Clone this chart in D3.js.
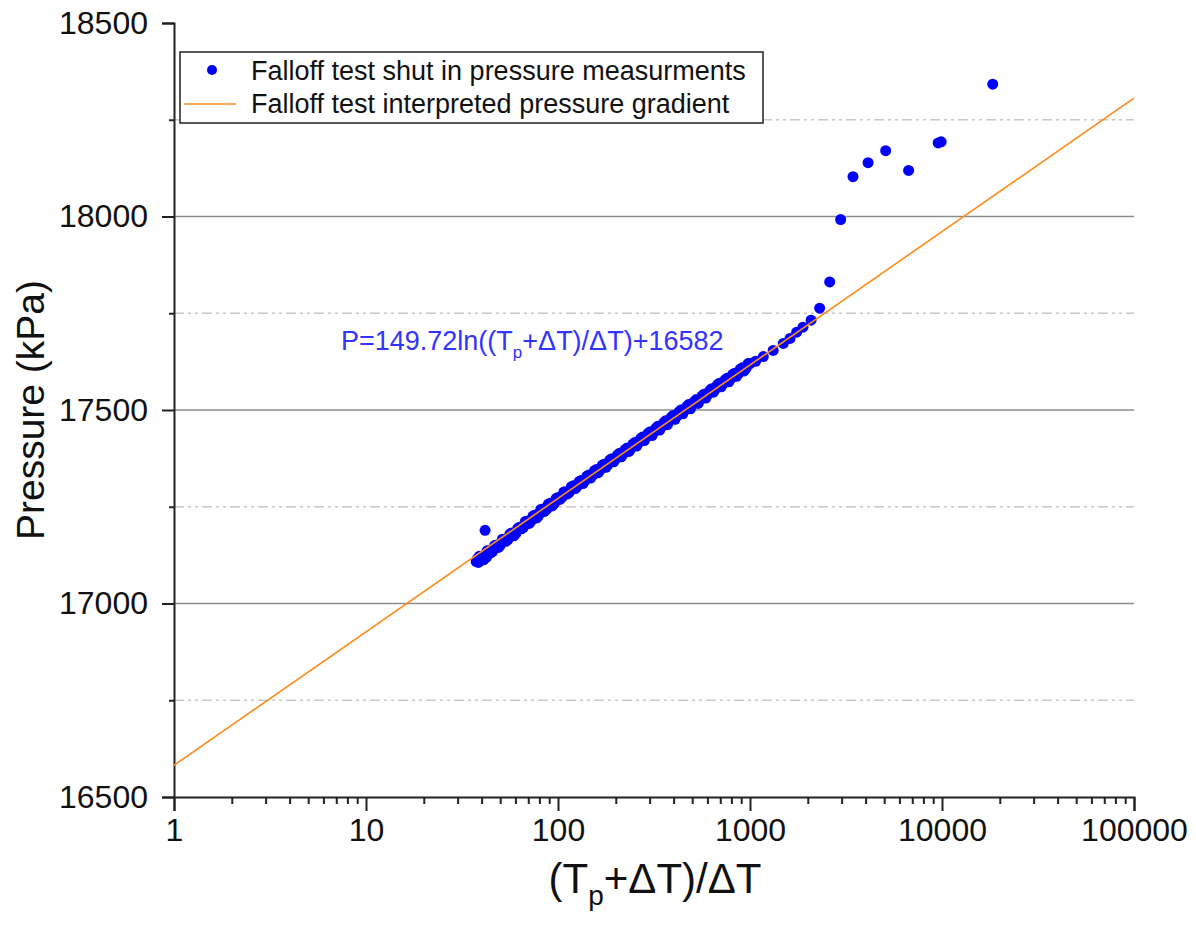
<!DOCTYPE html>
<html>
<head>
<meta charset="utf-8">
<script src="https://cdn.jsdelivr.net/npm/d3@7"></script>
<style>
  body { margin: 0; background: #fff; }
  text { font-family: "Liberation Sans", Arial, sans-serif; }
</style>
</head>
<body>
<div id="chart"></div>
<script>
// shut-in measurements: Horner ratio (Tp+dT)/dT and pressure (kPa)
var ratio = [37.5, 38.0, 38.5, 39.0, 39.8, 40.5, 41.0, 41.7, 42.5, 43.7, 45.7, 47.9, 50.1, 52.5, 55.0, 57.5,
  60.3, 63.1, 66.1, 69.2, 72.4, 75.9, 79.4, 83.2, 87.1, 91.2, 95.5, 100, 104.7, 109.6, 114.8, 120.2,
  125.9, 131.8, 138.0, 144.5, 151.4, 158.5, 166.0, 173.8, 182.0, 190.5, 199.5, 208.9, 218.8, 229.1,
  239.9, 251.2, 263.0, 275.4, 288.4, 302.0, 316.2, 331.1, 346.7, 363.1, 380.2, 398.1, 416.9, 436.5,
  457.1, 478.6, 501.2, 524.8, 549.5, 575.4, 602.6, 631.0, 660.7, 691.8, 724.4, 758.6, 794.3, 831.8,
  871.0, 912.0, 955.0, 1000, 1070, 1173, 1320, 1490, 1615, 1750, 1888, 2080, 2306, 2600, 2966, 3440,
  4120, 5090, 6700, 9550, 9900, 18370, 41.7,
  38.9, 40.7, 42.7, 44.7, 46.8, 49.0, 51.3, 53.7, 56.2, 58.9, 61.7, 64.6, 67.6, 70.8, 74.1, 77.6,
  81.3, 85.1, 89.1, 93.3, 97.7, 102.3, 107.2, 112.2, 117.5, 123.0, 128.8, 134.9, 141.3, 147.9, 154.9,
  162.2, 169.8, 177.8, 186.2, 195.0, 204.2, 213.8, 223.9, 234.4, 245.5, 257.0, 269.2, 281.8, 295.1,
  309.0, 323.6, 338.8, 354.8, 371.5, 389.0, 407.4, 426.6, 446.7, 467.7, 489.8, 512.9, 537.0, 562.3,
  588.8, 616.6, 645.7, 676.1, 707.9, 741.3, 776.2, 812.8, 851.1, 891.3, 933.3, 977.2]
var pressure = [17108, 17115, 17106, 17116, 17112, 17122, 17113, 17126, 17120, 17136, 17135, 17151, 17151, 17166, 17166, 17182,
  17181, 17197, 17197, 17213, 17213, 17229, 17228, 17244, 17243, 17259, 17258, 17274, 17274, 17289, 17288, 17304,
  17303, 17318, 17317, 17332, 17331, 17346, 17345, 17360, 17359, 17374, 17373, 17388, 17387, 17402,
  17401, 17416, 17415, 17430, 17429, 17444, 17443, 17458, 17457, 17472, 17471, 17486, 17485, 17500,
  17499, 17514, 17513, 17527, 17526, 17541, 17540, 17555, 17554, 17569, 17568, 17582, 17581, 17595,
  17594, 17609, 17608, 17620, 17626, 17638, 17654, 17672, 17685, 17701, 17714, 17732, 17763, 17831, 17992, 18103,
  18139, 18170, 18119, 18190, 18193, 18342, 17189,
  17122, 17117, 17136, 17131, 17150, 17145, 17166, 17161, 17180, 17175, 17194, 17193, 17212, 17207, 17226, 17221,
  17243, 17238, 17257, 17252, 17271, 17269, 17288, 17283, 17302, 17297, 17315, 17310, 17329, 17324, 17343,
  17338, 17357, 17352, 17371, 17366, 17384, 17379, 17398, 17393, 17412, 17407, 17426, 17421, 17440,
  17434, 17453, 17448, 17467, 17462, 17481, 17476, 17495, 17490, 17509, 17503, 17522, 17517, 17536,
  17531, 17550, 17546, 17565, 17560, 17578, 17573, 17592, 17587, 17606, 17601, 17620]

// interpreted gradient P = a ln(x) + b
var slope = 149.72
var intercept = 16582
var fitRange = [1, 100000]

var xTicks = [1, 10, 100, 1000, 10000, 100000]
var yTicks = [16500, 17000, 17500, 18000, 18500]
var yMinor = [16750, 17250, 17750, 18250]

var W = 1196, H = 928
var mLeft = 174, mRight = 1134, mTop = 23, mBottom = 797

var svg = d3.select("#chart")
    .append("svg")
    .attr("width", W)
    .attr("height", H)

var x = d3.scaleLog()
    .domain([1, 100000])
    .range([mLeft, mRight])

var y = d3.scaleLinear()
    .domain([16500, 18500])
    .range([mBottom, mTop])

// grid lines
svg.append("g")
    .selectAll("line")
    .data(yTicks.filter(d => d > 16500 && d < 18500))
    .join("line")
    .attr("x1", mLeft).attr("x2", mRight)
    .attr("y1", d => y(d)).attr("y2", d => y(d))
    .attr("stroke", "#8c8c8c")
    .attr("stroke-width", 1.5)

svg.append("g")
    .selectAll("line")
    .data(yMinor)
    .join("line")
    .attr("x1", mLeft).attr("x2", mRight)
    .attr("y1", d => y(d)).attr("y2", d => y(d))
    .attr("stroke", "#c8c8c8")
    .attr("stroke-width", 1.5)
    .attr("stroke-dasharray", "10,4,3,4,3,4")

// minor x ticks (2..9 of every decade)
var xMinor = []
xTicks.slice(0, -1).forEach(d => { for (let k = 2; k < 10; k++) xMinor.push(d * k) })

var xAxis = svg.append("g")
    .attr("transform", "translate(0," + mBottom + ")")
    .call(d3.axisBottom(x).tickValues(xTicks).tickSize(14).tickPadding(7).tickFormat(d3.format("d")))
xAxis.append("g")
    .call(d3.axisBottom(x).tickValues(xMinor).tickSize(7).tickFormat(""))
    .select(".domain").remove()

var yAxis = svg.append("g")
    .attr("transform", "translate(" + mLeft + ",0)")
    .call(d3.axisLeft(y).tickValues(yTicks).tickSize(12).tickPadding(14).tickFormat(d3.format("d")))
yAxis.append("g")
    .call(d3.axisLeft(y).tickValues(yMinor).tickSize(5).tickFormat(""))
    .select(".domain").remove()

svg.selectAll(".domain, .tick line")
    .attr("stroke", "#222")
    .attr("stroke-width", 2)
svg.selectAll(".tick text")
    .attr("fill", "#111")
    .style("font-size", "32px")
    .style("font-family", "'Liberation Sans', Arial, sans-serif")

// measured points
var pts = ratio.map((d, i) => ({ r: d, p: pressure[i] }))
svg.append("g")
    .selectAll("circle")
    .data(pts)
    .join("circle")
    .attr("cx", d => x(d.r))
    .attr("cy", d => y(d.p))
    .attr("r", 5.5)
    .attr("fill", "#0000ff")

// fitted line
svg.append("path")
    .datum(fitRange)
    .attr("d", d3.line().x(d => x(d)).y(d => y(slope * Math.log(d) + intercept)))
    .attr("fill", "none")
    .attr("stroke", "#ff8c1a")
    .attr("stroke-width", 1.6)

// equation
var eq = svg.append("text")
    .attr("x", 341)
    .attr("y", 350)
    .attr("fill", "#3333ff")
    .style("font-size", "27px")
eq.append("tspan").text("P=149.72ln((T")
eq.append("tspan").text("p").attr("dy", 8).style("font-size", "17px")
eq.append("tspan").text("+ΔT)/ΔT)+16582").attr("dy", -8)

// legend
var lg = svg.append("g")
lg.append("rect")
    .attr("x", 180).attr("y", 52)
    .attr("width", 583).attr("height", 71)
    .attr("fill", "#fff")
    .attr("stroke", "#222")
    .attr("stroke-width", 1.5)
lg.append("circle")
    .attr("cx", 212).attr("cy", 70).attr("r", 5)
    .attr("fill", "#0000ff")
lg.append("line")
    .attr("x1", 184).attr("x2", 236)
    .attr("y1", 104).attr("y2", 104)
    .attr("stroke", "#ff8c1a")
    .attr("stroke-width", 1.6)
lg.append("text")
    .attr("x", 251).attr("y", 80)
    .attr("fill", "#111")
    .style("font-size", "27px")
    .text("Falloff test shut in pressure measurments")
lg.append("text")
    .attr("x", 251).attr("y", 113)
    .attr("fill", "#111")
    .style("font-size", "27px")
    .text("Falloff test interpreted pressure gradient")

// axis titles
svg.append("text")
    .attr("transform", "translate(44," + ((mTop + mBottom) / 2) + ") rotate(-90)")
    .attr("text-anchor", "middle")
    .attr("fill", "#111")
    .style("font-size", "39px")
    .text("Pressure (kPa)")

var xt = svg.append("text")
    .attr("x", 655)
    .attr("y", 893)
    .attr("text-anchor", "middle")
    .attr("fill", "#111")
    .style("font-size", "42px")
xt.append("tspan").text("(T")
xt.append("tspan").text("p").attr("dy", 12).style("font-size", "28px")
xt.append("tspan").text("+ΔT)/ΔT").attr("dy", -12)
</script>
</body>
</html>
